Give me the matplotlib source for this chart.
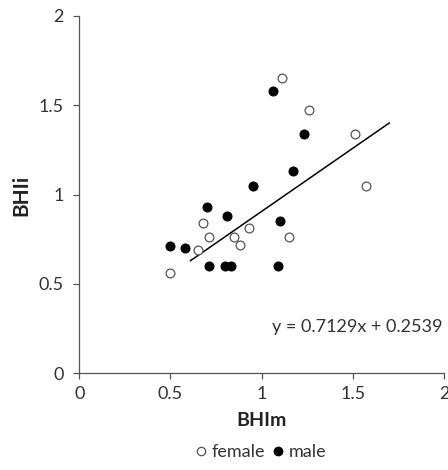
import matplotlib
matplotlib.use("Agg")
import matplotlib.pyplot as plt
from matplotlib.lines import Line2D

plt.rcParams['font.family'] = ['Lato', 'DejaVu Sans']

female_x = [0.50, 0.65, 0.68, 0.71, 0.85, 0.88, 0.93, 1.11, 1.15, 1.26, 1.51, 1.57]
female_y = [0.56, 0.69, 0.84, 0.76, 0.76, 0.72, 0.81, 1.65, 0.76, 1.47, 1.34, 1.05]
male_x = [0.50, 0.58, 0.70, 0.71, 0.80, 0.83, 0.81, 0.95, 1.06, 1.09, 1.10, 1.17, 1.23]
male_y = [0.71, 0.70, 0.93, 0.60, 0.60, 0.60, 0.88, 1.05, 1.58, 0.60, 0.85, 1.13, 1.34]
trend_x = [0.61, 1.70]
trend_y = [0.63, 1.40]
equation = "y = 0.7129x + 0.2539"
ticks = [0, 0.5, 1, 1.5, 2]
tick_labels = ["0", "0.5", "1", "1.5", "2"]

fig = plt.figure(figsize=(4.48, 4.70), dpi=100)
ax = fig.add_axes([79.3/448, 1 - 373.3/470, (444 - 79.3)/448, (373.3 - 15.7)/470])

ax.plot(trend_x, trend_y, color='black', lw=1.1, zorder=2)
ax.scatter(female_x, female_y, s=40, facecolors='white', edgecolors='#555555', linewidths=0.9, zorder=3)
ax.scatter(male_x, male_y, s=40, facecolors='black', edgecolors='black', linewidths=0.9, zorder=3)

ax.set_xlim(0, 2)
ax.set_ylim(0, 2)
ax.set_xticks(ticks)
ax.set_xticklabels(tick_labels)
ax.set_yticks(ticks)
ax.set_yticklabels(tick_labels)
for s in ['top', 'right']:
    ax.spines[s].set_visible(False)
for s in ['left', 'bottom']:
    ax.spines[s].set_color('#555555')
    ax.spines[s].set_linewidth(0.9)
ax.tick_params(direction='out', length=4, width=0.9, color='#555555',
               labelsize=13, labelcolor='#333333', pad=5)
ax.tick_params(axis='y', pad=7)

ax.set_xlabel("BHIm", fontsize=14, fontweight='bold', color='#222222', labelpad=7)
fig.text(21/448, 1 - 195/470, "BHIi", rotation=90, ha='center', va='center',
         fontsize=15, fontweight='bold', color='#222222')

ax.text(1.99, 0.26, equation, ha='right', va='center', fontsize=13, color='#333333')

handles = [Line2D([], [], marker='o', ls='none', markersize=6, markerfacecolor='white',
                  markeredgecolor='#555555', markeredgewidth=0.9),
           Line2D([], [], marker='o', ls='none', markersize=6, markerfacecolor='black',
                  markeredgecolor='black')]
fig.legend(handles, ['female', 'male'], loc='center', bbox_to_anchor=(261/448, 1 - 452/470),
           ncol=2, frameon=False, fontsize=13, handlelength=0.6, handletextpad=0.3,
           columnspacing=0.4, labelcolor='#333333')

fig.savefig("out.png", dpi=100)
